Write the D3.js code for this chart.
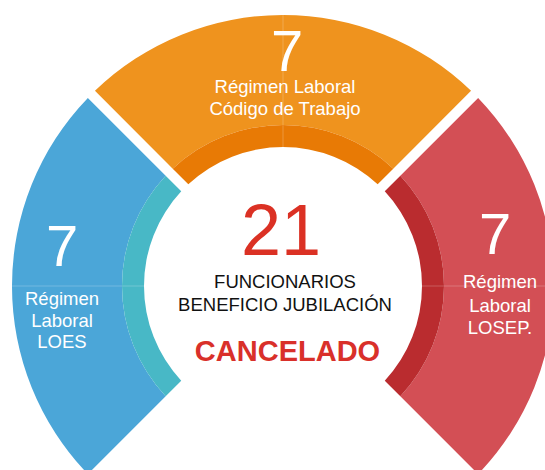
<!DOCTYPE html>
<html>
<head>
<meta charset="utf-8">
<script src="https://cdn.jsdelivr.net/npm/d3@7"></script>
<style>
  body { margin: 0; background: #fff; }
  text { font-family: "Liberation Sans", Arial, sans-serif; }
</style>
</head>
<body>
<div id="main"></div>
<script>
// data
var regimes = ["LOES", "Código de Trabajo", "LOSEP."];
var counts = [7, 7, 7];
var labelLines = [
    ["Régimen", "Laboral", "LOES"],
    ["Régimen Laboral", "Código de Trabajo"],
    ["Régimen", "Laboral", "LOSEP."]
];
var centerTitle = ["FUNCIONARIOS", "BENEFICIO JUBILACIÓN"];
var centerStatus = "CANCELADO";

var ctx = {
    w: 545,
    h: 470,
    cx: 283,
    cy: 286,
    r0: 139,
    r1: 161,
    r2: 271,
    gap: 10,
    outerColors: ["#4ba6d8", "#ef931e", "#d34f55"],
    innerColors: ["#48b8c6", "#e87a05", "#ba2c2f"],
    // small nudges of each segment's label relative to its mid point
    labelNudge: [
        { nx: 0, ny: -20, tx: 0, ty: [19, 41, 62] },
        { nx: 4, ny: 6, tx: 2, ty: [28, 50] },
        { nx: -9, ny: -32, tx: -4, ty: [2, 26, 48] }
    ],
    labelR: 221
};

var createViz = function () {
    var svg = d3.select("#main").append("svg")
        .attr("width", ctx.w)
        .attr("height", ctx.h);

    var g = svg.append("g")
        .attr("transform", "translate(" + ctx.cx + "," + ctx.cy + ")");

    var pie = d3.pie()
        .sort(null)
        .value(function (d) { return d; })
        .startAngle(-3 * Math.PI / 4)
        .endAngle(3 * Math.PI / 4);

    var arcs = pie(counts);

    var outerArc = d3.arc()
        .innerRadius(ctx.r1)
        .outerRadius(ctx.r2)
        .padRadius(ctx.r2)
        .padAngle(ctx.gap / ctx.r2);

    var innerArc = d3.arc()
        .innerRadius(ctx.r0)
        .outerRadius(ctx.r1)
        .padRadius(ctx.r2)
        .padAngle(ctx.gap / ctx.r2);

    g.append("g").selectAll("path")
        .data(arcs)
        .enter()
        .append("path")
        .attr("d", outerArc)
        .attr("fill", function (d, i) { return ctx.outerColors[i]; });

    g.append("g").selectAll("path")
        .data(arcs)
        .enter()
        .append("path")
        .attr("d", innerArc)
        .attr("fill", function (d, i) { return ctx.innerColors[i]; });

    // faint split line through the middle of each segment
    g.append("g").selectAll("line")
        .data(arcs)
        .enter()
        .append("line")
        .attr("x1", function (d) { return ctx.r0 * Math.sin(mid(d)); })
        .attr("y1", function (d) { return -ctx.r0 * Math.cos(mid(d)); })
        .attr("x2", function (d) { return ctx.r2 * Math.sin(mid(d)); })
        .attr("y2", function (d) { return -ctx.r2 * Math.cos(mid(d)); })
        .attr("stroke", "#fff")
        .attr("stroke-opacity", 0.22)
        .attr("stroke-width", 1);

    // segment labels
    var labels = g.append("g").selectAll("g")
        .data(arcs)
        .enter()
        .append("g")
        .attr("transform", function (d) {
            return "translate(" + ctx.labelR * Math.sin(mid(d)) + "," +
                (-ctx.labelR * Math.cos(mid(d))) + ")";
        });

    labels.append("text")
        .attr("x", function (d, i) { return ctx.labelNudge[i].nx; })
        .attr("y", function (d, i) { return ctx.labelNudge[i].ny; })
        .attr("text-anchor", "middle")
        .attr("font-size", 58)
        .attr("fill", "#fff")
        .text(function (d) { return d.value; });

    labels.each(function (d, i) {
        var sel = d3.select(this);
        labelLines[i].forEach(function (line, j) {
            sel.append("text")
                .attr("x", ctx.labelNudge[i].tx)
                .attr("y", ctx.labelNudge[i].ty[j])
                .attr("text-anchor", "middle")
                .attr("font-size", 18.5)
                .attr("fill", "#fff")
                .text(line);
        });
    });

    // centre block
    var total = d3.sum(counts);
    g.append("text")
        .attr("x", -2)
        .attr("y", -31)
        .attr("text-anchor", "middle")
        .attr("font-size", 72)
        .attr("fill", "#db3124")
        .text(total);

    centerTitle.forEach(function (line, j) {
        g.append("text")
            .attr("x", 2)
            .attr("y", 2 + j * 22.5)
            .attr("text-anchor", "middle")
            .attr("font-size", 18.5)
            .attr("fill", "#111")
            .text(line);
    });

    g.append("text")
        .attr("x", 4.5)
        .attr("y", 74.5)
        .attr("text-anchor", "middle")
        .attr("font-size", 29)
        .attr("font-weight", "bold")
        .attr("fill", "#d9302a")
        .text(centerStatus);
};

function mid(d) {
    return (d.startAngle + d.endAngle) / 2;
}

createViz();
</script>
</body>
</html>
